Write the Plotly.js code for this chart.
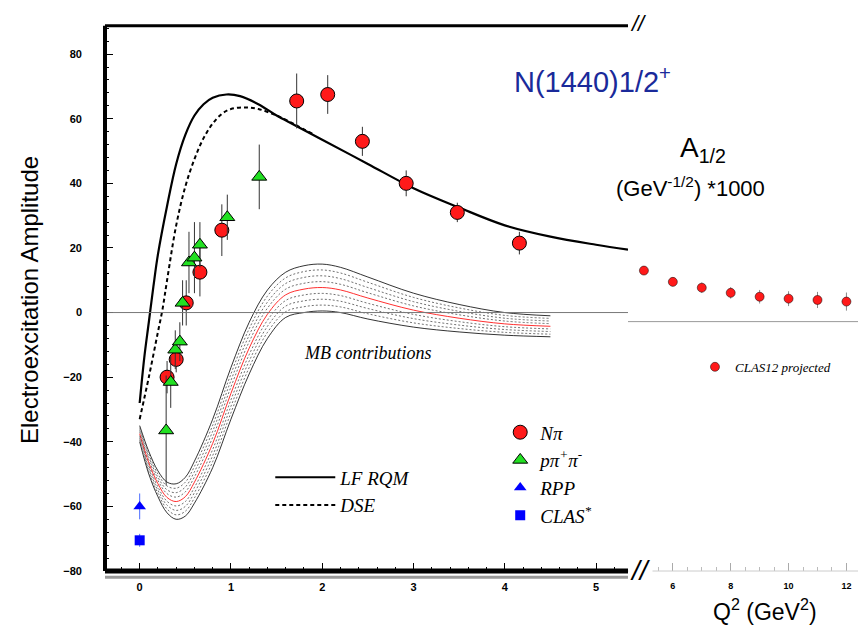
<!DOCTYPE html>
<html>
<head>
<meta charset="utf-8">
<script src="https://cdn.plot.ly/plotly-3.0.1.min.js"></script>
<style>html,body{margin:0;padding:0;background:#fff}#chart{width:858px;height:634px}</style>
</head>
<body>
<div id="chart"></div>
<script>
// ---------- data ----------
const npiX = [0.30, 0.40, 0.51, 0.66, 0.90, 1.72, 2.06, 2.44, 2.92, 3.48, 4.16];
const npiY = [-20, -14.5, 3, 12.5, 25.5, 65.5, 67.5, 53, 40, 31, 21.5];
const npiErr = [5, 4, 7, 7.5, 8, 8.5, 6, 4.5, 4, 3, 3.5];

const ppipiX = [0.29, 0.34, 0.39, 0.44, 0.47, 0.54, 0.60, 0.66, 0.96, 1.31];
const ppipiY = [-36.5, -21.5, -11.5, -9, 3, 15.5, 17, 21, 29.5, 42];
const ppipiErr = [17, 8, 6, 6, 7, 9.5, 11, 7, 7, 10];

const rppX = [0], rppY = [-60], rppErr = [4];
const clasX = [0], clasY = [-70.5], clasErr = [2];

const clas12X = [5, 6, 7, 8, 9, 10, 11, 12];
const clas12Y = [13, 9.5, 7.7, 6.1, 4.9, 4.3, 3.9, 3.4];
const clas12Err = [1.2, 1.4, 1.6, 1.8, 2.1, 2.3, 2.5, 2.8];

const lfX = [0, 0.05, 0.1, 0.15, 0.2, 0.3, 0.4, 0.5, 0.6, 0.7, 0.8, 0.95, 1.1, 1.3, 1.5, 1.7, 2.0, 2.5, 3.0, 3.5, 4.0, 4.5, 5.0, 5.35];
const lfY = [-28, -14, -3, 8, 18, 33, 46, 55, 61, 64.5, 66.5, 67.5, 67, 64.5, 61, 58, 53.5, 46, 38.5, 32.5, 27, 23.5, 21, 19.5];

const dseX = [0, 0.1, 0.2, 0.25, 0.3, 0.4, 0.5, 0.6, 0.7, 0.8, 0.9, 1.0, 1.15, 1.3, 1.5, 1.7, 1.9];
const dseY = [-33, -20, -6, 1, 10, 27, 39, 47.5, 54, 58.5, 61.5, 63, 63.5, 63, 61, 58.2, 55.2];

const mbX = [0, 0.1, 0.2, 0.3, 0.4, 0.5, 0.6, 0.8, 1.0, 1.2, 1.4, 1.6, 1.8, 2.0, 2.2, 2.5, 3.0, 3.5, 4.0, 4.5];
const mbUp = [-35, -43, -49, -52.5, -53, -51, -46, -33, -17, -3, 7, 12.5, 14.5, 15, 14, 11, 6, 2.5, 0, -1];
const mbLo = [-40, -50, -57, -62, -64, -63, -59, -48, -33, -19, -8, -1.5, 0, 0.5, 0, -2, -4.5, -6, -7, -7.5];

// ---------- build ----------
const X1 = "x", X2 = "x2";

function errTrace(x, y, err, name, symbol, color, size, axis, legend) {
    return {
        type: "scatter", mode: "markers", x: x, y: y, name: name,
        xaxis: axis || X1, yaxis: "y", legend: legend || "legend",
        marker: {symbol: symbol, color: color, size: size, line: {color: "#000", width: color === "blue" ? 0 : 1}},
        error_y: {type: "data", array: err, visible: true, color: color === "blue" ? "#4a6cff" : "#333", thickness: 1, width: 0}
    };
}

const traces = [];

// MB band: edges solid, interior dotted, red centre
const nInner = 8;
traces.push({type: "scatter", mode: "lines", x: mbX, y: mbUp, line: {color: "#000", width: 0.8, shape: "spline"}, showlegend: false, hoverinfo: "skip"});
traces.push({type: "scatter", mode: "lines", x: mbX, y: mbLo, line: {color: "#000", width: 0.8, shape: "spline"}, showlegend: false, hoverinfo: "skip"});
for (let k = 1; k < nInner; k++) {
    const f = k / nInner;
    const yy = mbUp.map((u, i) => u + (mbLo[i] - u) * f);
    const isMid = k === nInner / 2;
    traces.push({type: "scatter", mode: "lines", x: mbX, y: yy, showlegend: false, hoverinfo: "skip",
        line: {color: isMid ? "#ff3030" : "#333", width: isMid ? 1 : 0.7, dash: isMid ? "solid" : "2px,2px", shape: "spline"}});
}

traces.push({type: "scatter", mode: "lines", x: lfX, y: lfY, name: "LF RQM", legend: "legend2", line: {color: "#000", width: 2.2, shape: "spline"}});
traces.push({type: "scatter", mode: "lines", x: dseX, y: dseY, name: "DSE", legend: "legend2", line: {color: "#000", width: 2, dash: "4px,3px", shape: "spline"}});

traces.push(errTrace(npiX, npiY, npiErr, "Nπ", "circle", "#ff1a1a", 14));
traces.push(errTrace(ppipiX, ppipiY, ppipiErr, "pπ<sup>+</sup>π<sup>-</sup>", "triangle-up", "#22e022", 13));
traces.push(errTrace(rppX, rppY, rppErr, "RPP", "triangle-up", "blue", 11));
traces.push(errTrace(clasX, clasY, clasErr, "CLAS<sup>*</sup>", "square", "blue", 10));
traces.push(errTrace(clas12X, clas12Y, clas12Err, "CLAS12 projected", "circle", "#ff1a1a", 9, X2, "legend3"));
traces[traces.length - 1].marker.line.width = 0.5;
traces[traces.length - 1].error_y.color = "#888";

const dom1 = [105 / 858, 628 / 858];
const dom2 = [628 / 858, 1];
const ydom = [(634 - 571) / 634, (634 - 25.7) / 634];
const tickFont = {family: "Arial, Liberation Sans", size: 11, color: "#000", weight: "bold"};
const serif = {family: "Liberation Serif, Times New Roman", size: 19, color: "#000", style: "italic"};

function note(x, y, text, font, extra) {
    return Object.assign({xref: "paper", yref: "paper", x: x / 858, y: 1 - y / 634, text: text, showarrow: false,
        xanchor: "center", yanchor: "middle", font: font}, extra || {});
}

const layout = {
    width: 858, height: 634,
    margin: {l: 0, r: 0, t: 0, b: 0},
    paper_bgcolor: "#fff", plot_bgcolor: "rgba(0,0,0,0)",
    showlegend: true,
    xaxis: {domain: dom1, range: [-0.38, 5.35], showgrid: false, zeroline: false, showline: false,
        tickvals: [0, 1, 2, 3, 4, 5], ticks: "inside", ticklen: 8, tickcolor: "#000", tickfont: tickFont,
        ticklabelstandoff: 8,
        minor: {ticks: "inside", ticklen: 4, dtick: 0.2, tickcolor: "#000"}, anchor: "y"},
    xaxis2: {domain: dom2, range: [4.45, 12.4], showgrid: false, zeroline: false, showline: false,
        tickvals: [6, 8, 10, 12], ticks: "inside", ticklen: 8, tickcolor: "#aaa", ticklabelstandoff: 8,
        tickfont: {family: "Arial", size: 9, color: "#000", weight: "bold"},
        minor: {ticks: "inside", ticklen: 4, dtick: 0.5, tickcolor: "#bbb"}, anchor: "y"},
    yaxis: {domain: ydom, range: [-80, 88.8], showgrid: false, zeroline: false, showline: false,
        tickvals: [-80, -60, -40, -20, 0, 20, 40, 60, 80], ticks: "inside", ticklen: 8, tickcolor: "#000",
        tickfont: tickFont, ticklabelstandoff: 22,
        minor: {ticks: "inside", ticklen: 4, dtick: 4, tickcolor: "#000"}},
    legend: {x: 0.583, y: 0.348, xanchor: "left", yanchor: "top", bgcolor: "rgba(0,0,0,0)",
        font: serif, itemwidth: 30, tracegroupgap: 0},
    legend2: {x: 0.315, y: 0.277, xanchor: "left", yanchor: "top", bgcolor: "rgba(0,0,0,0)",
        font: serif, itemwidth: 60},
    legend3: {x: 0.81, y: 0.445, xanchor: "left", yanchor: "top", bgcolor: "rgba(0,0,0,0)",
        font: {family: "Liberation Serif", size: 13, style: "italic", color: "#000"}, itemwidth: 30},
    shapes: [
        {type: "line", xref: "paper", yref: "y", x0: dom1[0], x1: dom1[1], y0: 0, y1: 0, line: {color: "#777", width: 1}},
        {type: "line", xref: "paper", yref: "y", x0: dom2[0], x1: 1, y0: -2.8, y1: -2.8, line: {color: "#999", width: 1}},
        {type: "line", xref: "paper", yref: "paper", x0: dom1[0], x1: dom1[0], y0: ydom[0], y1: ydom[1], line: {color: "#000", width: 4}},
        {type: "line", xref: "paper", yref: "paper", x0: dom1[0], x1: dom1[1], y0: ydom[1], y1: ydom[1], line: {color: "#000", width: 3}},
        {type: "line", xref: "paper", yref: "paper", x0: dom1[0], x1: dom1[1], y0: ydom[0], y1: ydom[0], line: {color: "#000", width: 5}},
        {type: "line", xref: "paper", yref: "paper", x0: dom1[0], x1: dom1[1], y0: ydom[0] - 0.01, y1: ydom[0] - 0.01, line: {color: "#999", width: 3}},
        {type: "line", xref: "paper", yref: "paper", x0: dom2[0], x1: 1, y0: ydom[0], y1: ydom[0], line: {color: "#ccc", width: 1}}
    ],
    annotations: [
        note(592, 80, "N(1440)1/2<sup>+</sup>", {family: "Arial, Liberation Sans", size: 29, color: "#1a2a9a"}),
        note(703, 150, "A<sub>1/2</sub>", {family: "Arial, Liberation Sans", size: 28, color: "#000"}),
        note(690, 187, "(GeV<sup>-1/2</sup>) *1000", {family: "Arial, Liberation Sans", size: 22, color: "#000"}),
        note(368, 353, "MB contributions", {family: "Liberation Serif", size: 18, style: "italic", color: "#000"}),
        note(30, 300, "Electroexcitation Amplitude", {family: "Arial, Liberation Sans", size: 24, color: "#000"}, {textangle: -90}),
        note(765, 610, "Q<sup>2</sup> (GeV<sup>2</sup>)", {family: "Arial, Liberation Sans", size: 23, color: "#000"}),
        note(638, 24, "//", {family: "Arial", size: 22, color: "#000", style: "italic"}),
        note(640, 570, "//", {family: "Arial", size: 28, color: "#000", style: "italic"}, {bgcolor: "#fff"})
    ]
};

Plotly.newPlot("chart", traces, layout, {staticPlot: true});
</script>
</body>
</html>
